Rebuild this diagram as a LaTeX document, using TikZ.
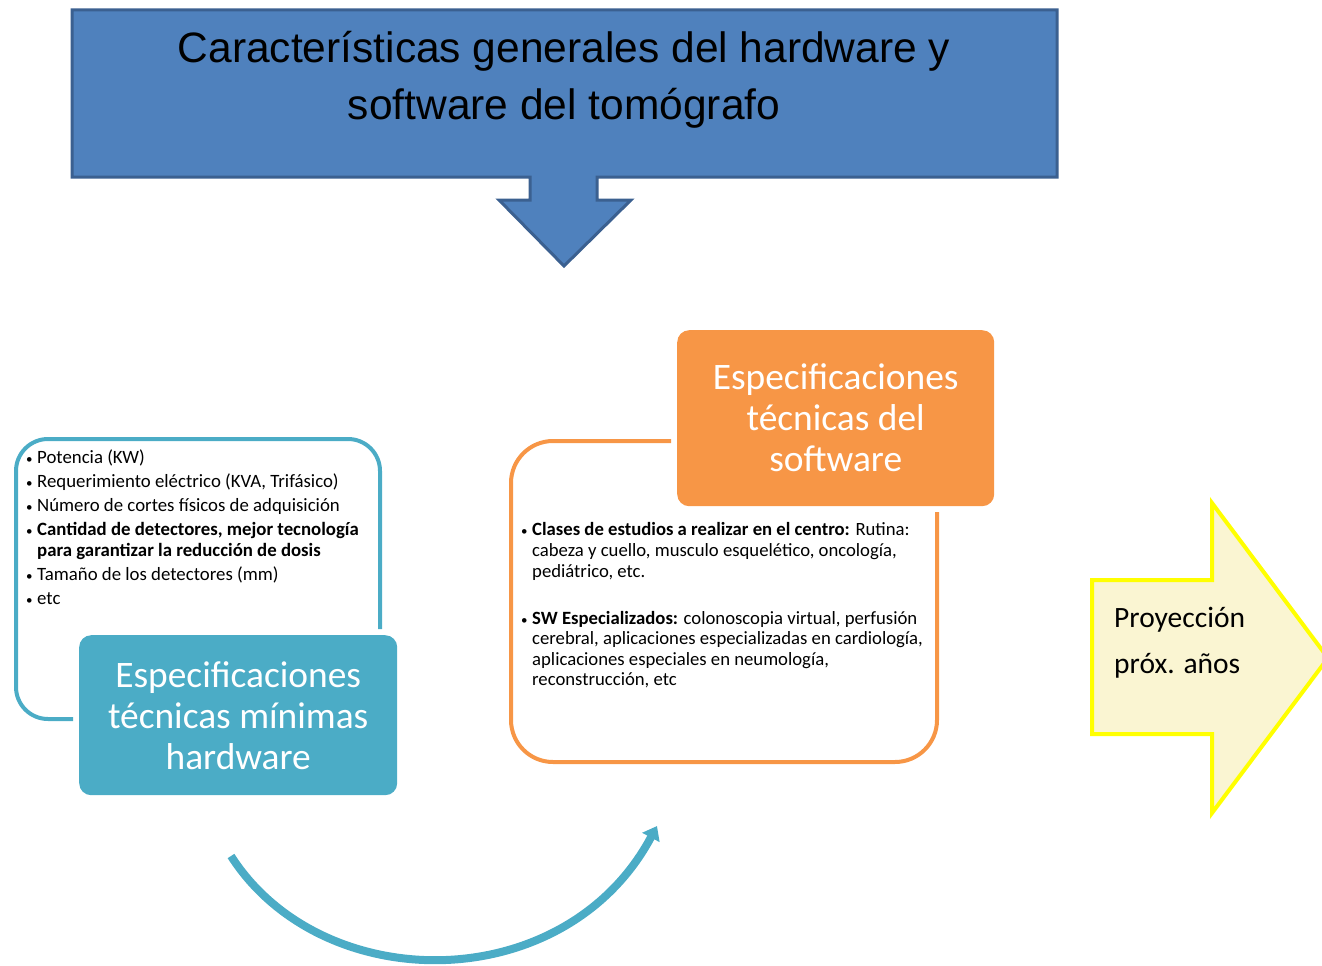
\documentclass[tikz,border=0pt]{standalone}
\usepackage{fontspec}
\setmainfont{Carlito}
\newfontfamily\arialf{Liberation Sans}
\usetikzlibrary{arrows.meta}
\definecolor{tblue}{HTML}{4F81BD}
\definecolor{tbluedk}{HTML}{3B6090}
\definecolor{tealc}{HTML}{4BACC6}
\definecolor{orng}{HTML}{F79646}
\definecolor{ylwfill}{HTML}{FAF5D2}
\definecolor{ylwline}{HTML}{FFFF00}
\newcommand{\bul}{\makebox[11pt][l]{{\fontsize{13}{13}\selectfont\mdseries•}}}
\newcommand{\ind}{\hspace*{11pt}}
\begin{document}
\begin{tikzpicture}[x=1pt,y=-1pt,
  hwline/.style={anchor=base west, inner sep=0pt, font=\fontsize{18.8}{22}\selectfont},
  swline/.style={anchor=base west, inner sep=0pt, font=\fontsize{18.7}{22}\selectfont},
  titleline/.style={anchor=base, inner sep=0pt, font=\arialf\fontsize{42.5}{58}\selectfont},
  headbox/.style={anchor=north west, rounded corners=12pt, inner sep=0pt, text=white, align=center,
     font=\fontsize{37.4}{41}\selectfont},
  ylwtext/.style={anchor=base west, inner sep=0pt, font=\fontsize{29.5}{46}\selectfont},
]
\useasboundingbox (0,0) rectangle (1322,966);

% title box with down arrow
\draw[fill=tblue, draw=tbluedk, line width=3pt, line join=miter]
  (72,10) -- (1057,10) -- (1057,177) -- (597,177) -- (597,200) -- (631,200)
  -- (564,266) -- (499,200) -- (530,200) -- (530,177) -- (72,177) -- cycle;
\node[titleline] (t1) at (564,63) {Características generales del hardware y};
\node[titleline] (t2) at (564,119) {software del tomógrafo};

% hardware group
\draw[tealc, line width=4pt, rounded corners=32pt]
  (73,719) -- (16,719) -- (16,439) -- (380,439) -- (380,629);
\node[headbox, fill=tealc, minimum width=318pt, minimum height=160pt] (hw) at (79,635)
  {Especificaciones\\técnicas mínimas\\hardware};
\node[hwline] (h1) at (26,463) {\bul Potencia (KW)};
\node[hwline] (h2) at (26,487) {\bul Requerimiento eléctrico (KVA, Trifásico)};
\node[hwline] (h3) at (26,511) {\bul Número de cortes físicos de adquisición};
\node[hwline] (h4) at (26,535) {\bul\bfseries Cantidad de detectores, mejor tecnología};
\node[hwline] (h5) at (26,556) {\ind\bfseries para garantizar la reducción de dosis};
\node[hwline] (h6) at (26,580) {\bul Tamaño de los detectores (mm)};
\node[hwline] (h7) at (26,604) {\bul etc};

% software group
\draw[orng, line width=4pt, rounded corners=42pt]
  (671,441) -- (511,441) -- (511,762) -- (937,762) -- (937,512);
\node[headbox, fill=orng, minimum width=317pt, minimum height=176pt] (sw) at (677,330)
  {Especificaciones\\técnicas del\\software};
\node[swline] (s1) at (521,535) {\bul\textbf{Clases de estudios a realizar en el centro:} Rutina:};
\node[swline] (s2) at (521,556) {\ind cabeza y cuello, musculo esquelético, oncología,};
\node[swline] (s3) at (521,577) {\ind pediátrico, etc.};
\node[swline] (s4) at (521,624) {\bul\textbf{SW Especializados:} colonoscopia virtual, perfusión};
\node[swline] (s5) at (521,644) {\ind cerebral, aplicaciones especializadas en cardiología,};
\node[swline] (s6) at (521,665) {\ind aplicaciones especiales en neumología,};
\node[swline] (s7) at (521,685) {\ind reconstrucción, etc};

% yellow arrow
\draw[draw=ylwline, fill=ylwfill, line width=4pt, line join=miter]
  (1092,580) -- (1212,580) -- (1212,503) -- (1328,658) -- (1212,813)
  -- (1212,734) -- (1092,734) -- cycle;
\node[ylwtext] (y1) at (1114,627) {Proyección};
\node[ylwtext] (y2) at (1114,673) {próx. años};

% curved arrow
\coordinate (cs) at (231,856);
\coordinate (ce) at (657,826);
\draw[tealc, line width=8pt, -{Triangle[length=13pt,width=19pt]}]
  (cs) .. controls (322,998) and (565,998) .. (ce);
\end{tikzpicture}
\end{document}
